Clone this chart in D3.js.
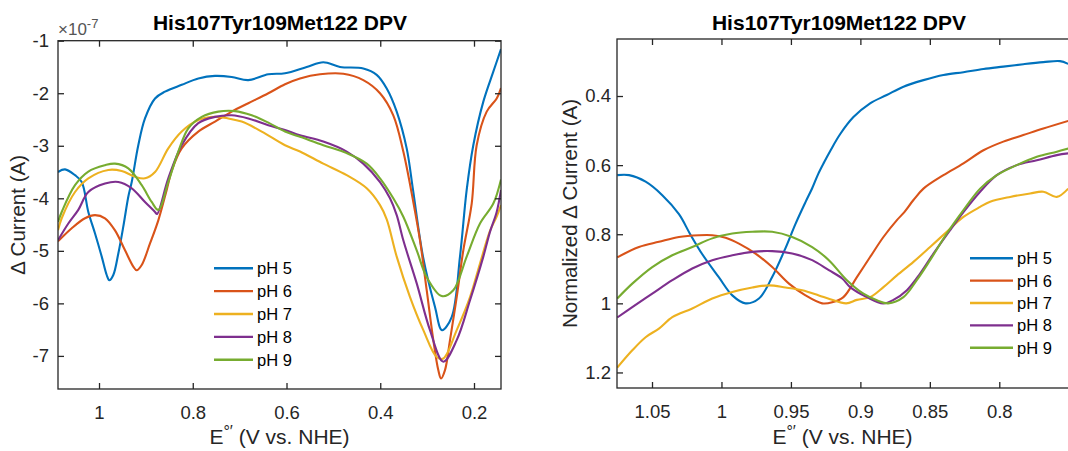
<!DOCTYPE html>
<html>
<head>
<meta charset="utf-8">
<script src="https://cdn.jsdelivr.net/npm/d3@7"></script>
<style>
  html, body { margin: 0; padding: 0; background: #fff; }
  svg { display: block; font-family: "Liberation Sans", Arial, Helvetica, sans-serif; }
</style>
</head>
<body>
<svg id="fig" width="1068" height="451"></svg>
<script>
// ---- Series labels and colours ----
const seriesNames = ["pH 5", "pH 6", "pH 7", "pH 8", "pH 9"];
const seriesColors = ["#0072BD", "#D95319", "#EDB120", "#7E2F8E", "#77AC30"];

// ---- Left panel: DPV current (units of 1e-7 A) vs potential (V vs. NHE) ----
const dpvPH5 = [
  [1.0875,-3.50],[1.0725,-3.45],[1.0512,-3.56],[1.0369,-3.69],[1.0228,-4.26],[1.0085,-4.67],
  [0.9942,-5.11],[0.9836,-5.46],[0.9780,-5.56],[0.9695,-5.46],[0.9588,-5.05],[0.9482,-4.54],
  [0.9375,-3.97],[0.9302,-3.69],[0.9162,-2.99],[0.9019,-2.48],[0.8805,-2.10],[0.8592,-1.97],
  [0.8236,-1.84],[0.7882,-1.72],[0.7525,-1.67],[0.7169,-1.69],[0.6815,-1.75],[0.6388,-1.64],
  [0.6032,-1.62],[0.5569,-1.50],[0.5215,-1.41],[0.4859,-1.50],[0.4362,-1.53],[0.4076,-1.65],
  [0.3862,-1.91],[0.3649,-2.35],[0.3436,-3.05],[0.3301,-3.84],[0.3088,-5.11],[0.2832,-6.07],
  [0.2683,-6.51],[0.2476,-6.26],[0.2299,-5.11],[0.2156,-3.84],[0.2015,-2.99],[0.1801,-2.16],
  [0.1588,-1.59],[0.1424,-1.16]
];
const dpvPH6 = [
  [1.0875,-4.82],[1.0582,-4.57],[1.0299,-4.38],[1.0085,-4.32],[0.9872,-4.38],[0.9659,-4.61],
  [0.9445,-4.99],[0.9268,-5.30],[0.9196,-5.37],[0.9089,-5.27],[0.8912,-4.86],[0.8735,-4.42],
  [0.8556,-3.84],[0.8443,-3.46],[0.8236,-3.05],[0.7882,-2.73],[0.7525,-2.54],[0.7169,-2.35],
  [0.6815,-2.19],[0.6388,-2.00],[0.6032,-1.83],[0.5712,-1.72],[0.5285,-1.64],[0.4788,-1.63],
  [0.4362,-1.75],[0.4005,-2.00],[0.3722,-2.42],[0.3508,-3.11],[0.3295,-4.07],[0.3152,-4.80],
  [0.3009,-5.75],[0.2868,-6.70],[0.2762,-7.27],[0.2704,-7.43],[0.2619,-7.27],[0.2512,-6.70],
  [0.2369,-5.88],[0.2228,-4.99],[0.2049,-4.10],[0.1943,-2.99],[0.1729,-2.35],[0.1516,-2.10],
  [0.1424,-1.90]
];
const dpvPH7 = [
  [1.0875,-4.61],[1.0796,-4.38],[1.0512,-3.88],[1.0228,-3.62],[0.9802,-3.46],[0.9516,-3.48],
  [0.9232,-3.59],[0.9019,-3.62],[0.8805,-3.50],[0.8522,-3.05],[0.8236,-2.73],[0.7882,-2.51],
  [0.7525,-2.45],[0.7242,-2.48],[0.6956,-2.54],[0.6529,-2.73],[0.6032,-2.99],[0.5712,-3.11],
  [0.5215,-3.34],[0.4716,-3.56],[0.4289,-3.81],[0.4005,-4.13],[0.3862,-4.40],[0.3649,-5.11],
  [0.3365,-5.88],[0.3081,-6.51],[0.2796,-7.02],[0.2655,-7.05],[0.2369,-6.51],[0.2085,-5.88],
  [0.1872,-5.24],[0.1659,-4.62],[0.1516,-4.35],[0.1424,-4.13]
];
const dpvPH8 = [
  [1.0875,-4.80],[1.0655,-4.48],[1.0442,-4.22],[1.0228,-3.88],[0.9872,-3.72],[0.9588,-3.69],
  [0.9302,-3.81],[0.9019,-4.07],[0.8805,-4.26],[0.8763,-4.30],[0.8522,-3.62],[0.8236,-2.99],
  [0.7882,-2.57],[0.7525,-2.45],[0.7169,-2.42],[0.6815,-2.48],[0.6388,-2.61],[0.6032,-2.70],
  [0.5712,-2.80],[0.5215,-2.92],[0.4716,-3.11],[0.4362,-3.34],[0.4005,-3.69],[0.3792,-4.00],
  [0.3649,-4.32],[0.3508,-4.80],[0.3222,-5.62],[0.2939,-6.51],[0.2655,-7.11],[0.2369,-6.70],
  [0.2085,-5.94],[0.1801,-5.11],[0.1659,-4.64],[0.1516,-4.26],[0.1424,-3.84]
];
const dpvPH9 = [
  [1.0875,-4.45],[1.0796,-4.26],[1.0512,-3.75],[1.0228,-3.49],[0.9872,-3.37],[0.9659,-3.34],
  [0.9375,-3.43],[0.9089,-3.75],[0.8876,-4.07],[0.8735,-4.22],[0.8522,-3.69],[0.8308,-3.11],
  [0.8095,-2.67],[0.7809,-2.45],[0.7455,-2.35],[0.7099,-2.34],[0.6742,-2.42],[0.6388,-2.56],
  [0.6032,-2.73],[0.5712,-2.83],[0.5215,-2.99],[0.4716,-3.14],[0.4289,-3.34],[0.4005,-3.62],
  [0.3722,-4.00],[0.3508,-4.35],[0.3222,-4.99],[0.3009,-5.50],[0.2689,-5.86],[0.2442,-5.75],
  [0.2156,-5.11],[0.1872,-4.48],[0.1588,-4.10],[0.1424,-3.64]
];

// ---- Right panel: normalized current vs potential ----
const normPH5 = [
  [1.0750,0.629],[1.0665,0.629],[1.0546,0.648],[1.0426,0.687],[1.0306,0.742],[1.0225,0.800],
  [1.0138,0.858],[1.0018,0.925],[0.9922,0.977],[0.9827,1.000],[0.9730,0.986],[0.9635,0.924],
  [0.9539,0.840],[0.9467,0.770],[0.9395,0.707],[0.9347,0.667],[0.9304,0.626],[0.9260,0.591],
  [0.9217,0.559],[0.9145,0.510],[0.9050,0.461],[0.8930,0.421],[0.8810,0.397],[0.8690,0.373],
  [0.8546,0.354],[0.8402,0.339],[0.8258,0.331],[0.8114,0.322],[0.7971,0.315],[0.7827,0.308],
  [0.7683,0.302],[0.7563,0.299],[0.7504,0.307]
];
const normPH6 = [
  [1.0750,0.867],[1.0594,0.837],[1.0450,0.822],[1.0306,0.808],[1.0162,0.803],[1.0066,0.803],
  [0.9970,0.810],[0.9874,0.827],[0.9755,0.856],[0.9635,0.895],[0.9514,0.943],[0.9395,0.977],
  [0.9275,1.000],[0.9203,0.997],[0.9122,0.982],[0.9025,0.924],[0.8930,0.866],[0.8834,0.808],
  [0.8737,0.759],[0.8690,0.739],[0.8618,0.701],[0.8546,0.668],[0.8402,0.629],[0.8258,0.595],
  [0.8114,0.557],[0.7971,0.532],[0.7827,0.513],[0.7683,0.494],[0.7504,0.472]
];
const normPH7 = [
  [1.0750,1.186],[1.0642,1.136],[1.0546,1.098],[1.0450,1.073],[1.0354,1.040],[1.0210,1.015],
  [1.0066,0.986],[0.9922,0.967],[0.9778,0.954],[0.9658,0.948],[0.9539,0.954],[0.9419,0.962],
  [0.9299,0.977],[0.9217,0.988],[0.9102,1.000],[0.9025,0.990],[0.8930,0.982],[0.8834,0.953],
  [0.8737,0.919],[0.8618,0.880],[0.8498,0.837],[0.8378,0.793],[0.8258,0.750],[0.8138,0.721],
  [0.8066,0.706],[0.7922,0.692],[0.7778,0.682],[0.7683,0.677],[0.7586,0.692],[0.7504,0.668]
];
const normPH8 = [
  [1.0750,1.041],[1.0642,1.011],[1.0498,0.972],[1.0354,0.933],[1.0210,0.899],[1.0066,0.875],
  [0.9922,0.861],[0.9778,0.851],[0.9635,0.849],[0.9491,0.856],[0.9347,0.875],[0.9227,0.904],
  [0.9131,0.928],[0.9074,0.953],[0.8953,0.982],[0.8836,1.000],[0.8762,0.990],[0.8665,0.962],
  [0.8570,0.914],[0.8474,0.856],[0.8354,0.788],[0.8258,0.736],[0.8138,0.677],[0.8018,0.629],
  [0.7874,0.600],[0.7730,0.586],[0.7586,0.571],[0.7504,0.566]
];
const normPH9 = [
  [1.0750,0.986],[1.0642,0.943],[1.0498,0.895],[1.0354,0.861],[1.0210,0.837],[1.0066,0.812],
  [0.9922,0.798],[0.9778,0.793],[0.9635,0.793],[0.9491,0.808],[0.9347,0.837],[0.9227,0.875],
  [0.9097,0.933],[0.8978,0.972],[0.8881,0.991],[0.8800,1.000],[0.8690,0.982],[0.8594,0.933],
  [0.8498,0.875],[0.8378,0.798],[0.8258,0.730],[0.8138,0.668],[0.8018,0.629],[0.7874,0.600],
  [0.7730,0.576],[0.7586,0.561],[0.7504,0.552]
];

// ---- Tick values ----
const leftXTicks = [1, 0.8, 0.6, 0.4, 0.2];
const leftYTicks = [-7, -6, -5, -4, -3, -2, -1];
const rightXTicks = [1.05, 1, 0.95, 0.9, 0.85, 0.8];
const rightYTicks = [0.4, 0.6, 0.8, 1, 1.2];

const titleText = "His107Tyr109Met122 DPV";
const ink = "#262626";
const svg = d3.select("#fig");

function drawPanel(p) {
  const x = d3.scaleLinear().domain(p.xDomain).range([p.left, p.right]);
  const y = d3.scaleLinear().domain(p.yDomain).range(p.yRange);
  const top = Math.min(...p.yRange), bottom = Math.max(...p.yRange);
  const g = svg.append("g");

  const clipId = "clip-" + p.id;
  svg.append("defs").append("clipPath").attr("id", clipId)
    .append("rect").attr("x", p.left).attr("y", top)
    .attr("width", p.right - p.left).attr("height", bottom - top);

  // data lines
  const line = d3.line().x(d => x(d[0])).y(d => y(d[1]))
    .curve(d3.curveCatmullRom.alpha(0.5));
  const lines = g.append("g").attr("clip-path", `url(#${clipId})`);
  p.series.forEach((s, i) => {
    lines.append("path").datum(s)
      .attr("fill", "none").attr("stroke", seriesColors[i])
      .attr("stroke-width", 2.1).attr("stroke-linejoin", "round")
      .attr("d", line);
  });

  // axes with inward ticks
  const fontSize = 18.5;
  const bottomAx = g.append("g").attr("transform", `translate(0,${bottom})`)
    .call(d3.axisBottom(x).tickValues(p.xTicks).tickSize(-6).tickSizeOuter(0)
      .tickPadding(17).tickFormat(d => String(d)));
  const topAx = g.append("g").attr("transform", `translate(0,${top})`)
    .call(d3.axisTop(x).tickValues(p.xTicks).tickSize(-6).tickSizeOuter(0).tickFormat(""));
  const leftAx = g.append("g").attr("transform", `translate(${p.left},0)`)
    .call(d3.axisLeft(y).tickValues(p.yTicks).tickSize(-6).tickSizeOuter(0)
      .tickPadding(p.yPad).tickFormat(d => String(d)));
  const rightAx = g.append("g").attr("transform", `translate(${p.right},0)`)
    .call(d3.axisRight(y).tickValues(p.yTicks).tickSize(-6).tickSizeOuter(0).tickFormat(""));
  [bottomAx, topAx, leftAx, rightAx].forEach(a => {
    a.select(".domain").remove();
    a.selectAll(".tick line").attr("stroke", ink).attr("stroke-width", 1.3);
    a.selectAll(".tick text").attr("font-size", fontSize).attr("fill", ink)
      .attr("font-family", "Liberation Sans, Arial, sans-serif");
  });

  // axes box
  g.append("rect").attr("x", p.left).attr("y", top)
    .attr("width", p.right - p.left).attr("height", bottom - top)
    .attr("fill", "none").attr("stroke", ink).attr("stroke-width", 1.3);

  // title
  g.append("text").attr("x", p.titleX).attr("y", 30)
    .attr("text-anchor", "middle").attr("font-weight", "bold")
    .attr("font-size", 21).attr("fill", "#000").text(titleText);

  // x label
  const xl = g.append("text").attr("x", (p.left + Math.min(p.right, 1068)) / 2)
    .attr("y", 444).attr("text-anchor", "middle").attr("font-size", 21).attr("fill", ink);
  xl.append("tspan").text("E");
  xl.append("tspan").attr("font-size", 16).attr("dy", -7).text("\u00B0\u2032");
  xl.append("tspan").attr("dy", 7).text(" (V vs. NHE)");

  // y label
  g.append("text")
    .attr("transform", `translate(${p.yLabelX},${(top + bottom) / 2}) rotate(-90)`)
    .attr("text-anchor", "middle").attr("font-size", 20.5).attr("fill", ink)
    .text(p.yLabel);

  // legend
  const lg = g.append("g");
  seriesNames.forEach((name, i) => {
    const yy = p.legend.y + i * p.legend.dy;
    lg.append("line").attr("x1", p.legend.x).attr("x2", p.legend.x + p.legend.len)
      .attr("y1", yy).attr("y2", yy)
      .attr("stroke", seriesColors[i]).attr("stroke-width", 2.4);
    lg.append("text").attr("x", p.legend.x + p.legend.len + 4).attr("y", yy + 6)
      .attr("font-size", 16.5).attr("fill", "#000").text(name);
  });
  return { x, y, g };
}

// left panel
const L = drawPanel({
  id: "dpv", left: 58, right: 501, yRange: [389, 40.7],
  xDomain: [1.0875, 0.1424], yDomain: [-7.63, -1],
  xTicks: leftXTicks, yTicks: leftYTicks, yPad: 9,
  series: [dpvPH5, dpvPH6, dpvPH7, dpvPH8, dpvPH9],
  titleX: 280, yLabelX: 25, yLabel: "\u0394 Current (A)",
  legend: { x: 214, len: 39, y: 268.3, dy: 22.85 }
});

// exponent marker for the left y axis
const expo = L.g.append("text").attr("x", 58).attr("y", 35).attr("font-size", 17).attr("fill", "#555");
expo.append("tspan").text("\u00D710");
expo.append("tspan").attr("font-size", 13).attr("dy", -7).text("-7");

// right panel
drawPanel({
  id: "norm", left: 617, right: 1075, yRange: [39, 388],
  xDomain: [1.0752, 0.7455], yDomain: [0.235, 1.245],
  xTicks: rightXTicks, yTicks: rightYTicks, yPad: 6,
  series: [normPH5, normPH6, normPH7, normPH8, normPH9],
  titleX: 839, yLabelX: 577, yLabel: "Normalized \u0394 Current (A)",
  legend: { x: 970, len: 43, y: 258.3, dy: 22.35 }
});
</script>
</body>
</html>
